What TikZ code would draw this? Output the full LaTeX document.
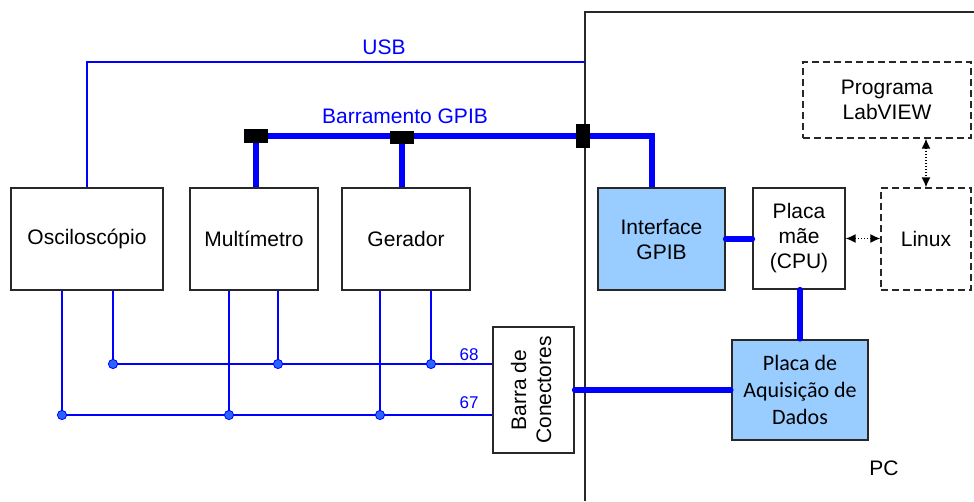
\documentclass[tikz,border=0pt]{standalone}
\usepackage{fontspec}
\usepackage{graphicx}
\setmainfont{Liberation Sans}
\newfontfamily\calibrifont{Carlito}
\usetikzlibrary{arrows.meta,backgrounds}
\definecolor{busblue}{RGB}{0,0,255}
\definecolor{dotblue}{RGB}{40,100,255}
\definecolor{cardblue}{RGB}{153,204,255}
\definecolor{edgegray}{RGB}{40,40,40}

\begin{document}
\begin{tikzpicture}[x=1pt,y=-1pt,every node/.style={font=\fontsize{21}{25}\selectfont},
  unit/.style={draw=edgegray,line width=1.3pt,minimum height=102pt,align=center,inner sep=0pt},
  dashbox/.style={dash pattern=on 7pt off 4pt},
  conn/.style={fill=black,inner sep=0pt},
  bus/.style={busblue,line width=5.5pt},
  sig/.style={busblue,line width=1.8pt},
  bluetext/.style={text=busblue},
  dotarrow/.style={dash pattern=on 1.5pt off 1.5pt,line width=1.4pt,<->,>={Latex[length=10pt,width=9pt]}}]
\useasboundingbox (0,0) rectangle (974,501);
% instrumentos
\node[unit,minimum width=152pt] (osc) at (87,239) {Osciloscópio};
\node[unit,minimum width=128pt] (mult) at (254,239) {Multímetro};
\node[unit,minimum width=128pt] (ger) at (406,239) {Gerador};
% PC
\draw[edgegray,line width=1.3pt] (585,501) -- (585,12) -- (974,12);
\node (pc) at (884,468) {PC};
\node[unit,fill=cardblue,minimum width=127pt] (gpib) at (661.5,239) {Interface\\GPIB};
\node[unit,minimum width=92pt,minimum height=101pt] (cpu) at (799,238.5) {Placa\\mãe\\(CPU)};
\node[unit,dashbox,minimum width=90pt] (linux) at (926,239) {Linux};
\node[unit,dashbox,minimum width=168pt,minimum height=76pt] (labview) at (887,100) {Programa\\LabVIEW};
\node[unit,fill=cardblue,line width=2.4pt,minimum width=136pt,minimum height=100pt,font=\calibrifont\fontsize{22}{27}\selectfont] (daq) at (800,390) {Placa de\\Aquisição de\\Dados};
\node[unit,minimum width=81pt,minimum height=126pt] (barra) at (533.5,390) {\rotatebox{90}{\begin{tabular}{@{}c@{}}Barra de\\Conectores\end{tabular}}};
% barramento GPIB
\node[conn,minimum width=24pt,minimum height=14pt] (gp1) at (256,136) {};
\node[conn,minimum width=24pt,minimum height=13pt] (gp2) at (402,137) {};
\node[conn,minimum width=14pt,minimum height=24pt] (gp3) at (583,136) {};
\node[bluetext] (gpiblabel) at (405,116) {Barramento GPIB};
\begin{pgfonlayer}{background}
\draw[bus] (gp1.center) -- (gp3.center) -| ([xshift=-9.5pt]gpib.north);
\draw[bus] (gp1.center) -- (gp1 |- mult.north);
\draw[bus] (gp2.center) -- (gp2 |- ger.north);
\end{pgfonlayer}
% USB
\coordinate (usbport) at (585,62);
\draw[sig] (osc.north) |- (usbport);
\node[bluetext] (usb) at (384,47) {USB};
% dentro do PC
\draw[bus,line cap=round] (gpib.east) -- (gpib.east -| cpu.west);
\draw[bus,line cap=round] (daq.north |- cpu.south) -- (daq.north);
\draw[bus,line cap=round] (barra.east) -- (daq.west);
\draw[dotarrow] (cpu.east) -- (cpu.east -| linux.west);
\draw[dotarrow] (labview.south -| linux.north) -- (linux.north);
% canais 68 e 67
\coordinate (b68) at ([yshift=26pt]barra.west);
\coordinate (b67) at ([yshift=-25pt]barra.west);
\draw[sig] ([xshift=26pt]osc.south |- b68) -- (b68);
\draw[sig] ([xshift=-25pt]osc.south |- b67) -- (b67);
\foreach \inst/\dx/\ch in {osc/-25/b67,osc/26/b68,mult/-25/b67,mult/24/b68,ger/-26/b67,ger/25/b68} {
  \draw[sig] ([xshift=\dx pt]\inst.south) -- ([xshift=\dx pt]\inst.south |- \ch);
  \filldraw[fill=dotblue,draw=busblue,line width=0.8pt] ([xshift=\dx pt]\inst.south |- \ch) circle (4.6pt);
}
\node[bluetext,font=\fontsize{17}{20}\selectfont] (n68) at (469,355) {68};
\node[bluetext,font=\fontsize{17}{20}\selectfont] (n67) at (469,403) {67};
\end{tikzpicture}
\end{document}
